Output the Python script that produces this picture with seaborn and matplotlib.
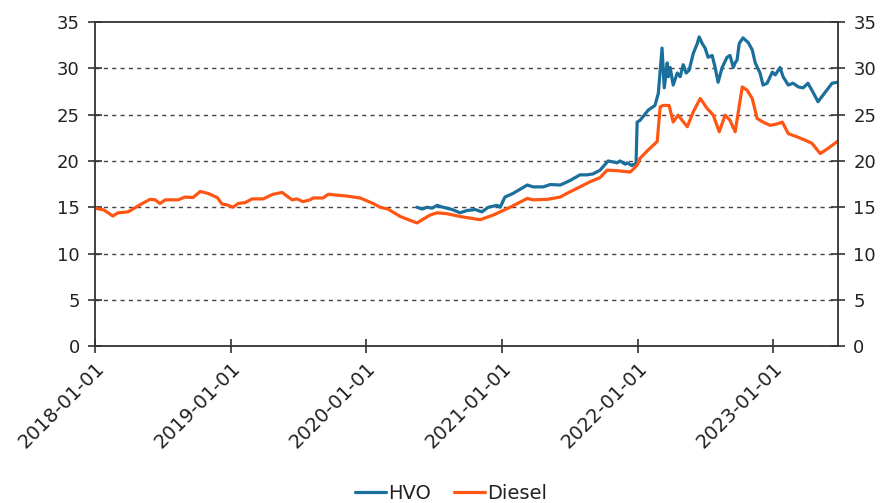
import pandas as pd
import numpy as np
import matplotlib
matplotlib.use("Agg")
import matplotlib.pyplot as plt
import seaborn as sns

# ========== DATA ==========
diesel_dates = [
    "2018-01-01", "2018-01-25", "2018-02-18", "2018-03-04", "2018-03-31", "2018-05-08",
    "2018-05-29", "2018-06-12", "2018-06-25", "2018-07-09", "2018-08-13", "2018-08-31",
    "2018-09-22", "2018-10-11", "2018-11-01", "2018-11-26", "2018-12-09", "2018-12-23",
    "2019-01-08", "2019-01-21", "2019-02-09", "2019-02-28", "2019-03-30", "2019-04-25",
    "2019-05-20", "2019-06-02", "2019-06-16", "2019-06-29", "2019-07-15", "2019-08-03",
    "2019-08-11", "2019-09-07", "2019-09-21", "2019-11-11", "2019-12-16", "2020-01-20",
    "2020-02-08", "2020-02-29", "2020-04-02", "2020-05-17", "2020-06-21", "2020-07-10",
    "2020-08-06", "2020-09-10", "2020-11-03", "2020-12-08", "2021-01-23", "2021-03-10",
    "2021-03-26", "2021-05-03", "2021-06-07", "2021-06-25", "2021-07-30", "2021-08-26",
    "2021-09-22", "2021-10-11", "2021-11-07", "2021-12-12", "2021-12-20", "2021-12-31",
    "2022-01-08", "2022-01-30", "2022-02-23", "2022-03-03", "2022-03-11", "2022-03-27",
    "2022-04-07", "2022-04-20", "2022-05-15", "2022-05-31", "2022-06-19", "2022-07-07",
    "2022-07-24", "2022-08-09", "2022-08-25", "2022-09-07", "2022-09-21", "2022-10-10",
    "2022-10-23", "2022-11-06", "2022-11-19", "2022-12-05", "2022-12-24", "2023-01-12",
    "2023-01-26", "2023-02-11", "2023-03-07", "2023-03-28", "2023-04-16", "2023-05-08",
    "2023-05-29", "2023-06-23",
]
diesel_values = [
    14.9, 14.7, 14.05, 14.4, 14.5, 15.4,
    15.85, 15.8, 15.4, 15.8, 15.8, 16.1,
    16.05, 16.7, 16.5, 16.05, 15.35, 15.25,
    15.0, 15.4, 15.5, 15.9, 15.9, 16.4,
    16.6, 16.2, 15.8, 15.9, 15.6, 15.8,
    16.0, 16.0, 16.4, 16.2, 16.0, 15.4,
    15.0, 14.8, 14.0, 13.3, 14.15, 14.4,
    14.3, 14.0, 13.65, 14.15, 15.0, 15.95,
    15.8, 15.85, 16.1, 16.5, 17.2, 17.75,
    18.2, 19.0, 18.95, 18.8, 19.1, 19.55,
    20.3, 21.2, 22.1, 25.85, 26.0, 26.0,
    24.2, 24.95, 23.7, 25.3, 26.75, 25.7,
    24.95, 23.15, 24.95, 24.4, 23.15, 28.0,
    27.65, 26.75, 24.6, 24.2, 23.85, 24.0,
    24.2, 22.95, 22.6, 22.25, 21.9, 20.8,
    21.35, 22.1,
]

hvo_dates = [
    "2020-05-17", "2020-05-31", "2020-06-13", "2020-06-27", "2020-07-10", "2020-07-26",
    "2020-08-20", "2020-09-10", "2020-09-29", "2020-10-21", "2020-11-08", "2020-11-25",
    "2020-12-19", "2020-12-27", "2021-01-09", "2021-01-31", "2021-03-10", "2021-03-26",
    "2021-04-22", "2021-05-11", "2021-06-07", "2021-07-04", "2021-07-30", "2021-08-18",
    "2021-09-03", "2021-09-22", "2021-10-14", "2021-11-07", "2021-11-15", "2021-11-29",
    "2021-12-04", "2021-12-17", "2021-12-20", "2021-12-28", "2021-12-31", "2022-01-08",
    "2022-01-30", "2022-02-17", "2022-02-26", "2022-03-08", "2022-03-14", "2022-03-22",
    "2022-03-25", "2022-03-30", "2022-04-07", "2022-04-18", "2022-04-26", "2022-05-04",
    "2022-05-12", "2022-05-20", "2022-05-31", "2022-06-11", "2022-06-16", "2022-06-24",
    "2022-07-02", "2022-07-10", "2022-07-21", "2022-07-29", "2022-08-06", "2022-08-17",
    "2022-08-30", "2022-09-07", "2022-09-16", "2022-09-21", "2022-09-26", "2022-10-02",
    "2022-10-12", "2022-10-26", "2022-11-06", "2022-11-14", "2022-11-27", "2022-12-05",
    "2022-12-16", "2022-12-30", "2023-01-07", "2023-01-20", "2023-01-28", "2023-02-11",
    "2023-02-24", "2023-03-10", "2023-03-23", "2023-04-05", "2023-04-19", "2023-05-02",
    "2023-05-21", "2023-06-09", "2023-06-23",
]
hvo_values = [
    15.0, 14.8, 15.0, 14.9, 15.2, 15.0,
    14.75, 14.4, 14.65, 14.75, 14.5, 15.0,
    15.2, 15.0, 16.1, 16.5, 17.4, 17.2,
    17.2, 17.45, 17.4, 17.9, 18.5, 18.5,
    18.6, 19.0, 20.0, 19.8, 20.0, 19.65,
    19.8, 19.5, 19.6, 19.7, 24.2, 24.4,
    25.5, 26.0, 27.3, 32.2, 27.9, 30.6,
    29.1, 30.1, 28.2, 29.5, 29.1, 30.4,
    29.5, 29.8, 31.6, 32.7, 33.4, 32.7,
    32.2, 31.2, 31.4, 30.1, 28.5, 30.1,
    31.2, 31.4, 30.1, 30.6, 30.9, 32.7,
    33.3, 32.8, 32.0, 30.6, 29.5, 28.2,
    28.4, 29.6, 29.3, 30.1, 29.1, 28.2,
    28.4, 28.0, 27.9, 28.4, 27.4, 26.4,
    27.4, 28.4, 28.5,
]

series_names = ["HVO", "Diesel"]
series_colors = {"HVO": "#1b6f9c", "Diesel": "#ff5614"}
y_ticks = [0, 5, 10, 15, 20, 25, 30, 35]
x_ticks = ["2018-01-01", "2019-01-01", "2020-01-01", "2021-01-01", "2022-01-01", "2023-01-01"]
x_end = "2023-06-25"

df = pd.concat([
    pd.DataFrame({"date": pd.to_datetime(hvo_dates), "value": hvo_values, "serie": "HVO"}),
    pd.DataFrame({"date": pd.to_datetime(diesel_dates), "value": diesel_values, "serie": "Diesel"}),
], ignore_index=True)

# ========== PLOT ==========
sns.set_style("white")
plt.rcParams["font.family"] = ["DejaVu Sans"]
text_color = "#222222"

fig = plt.figure(figsize=(8.84, 5.03), dpi=100)
ax = fig.add_axes([0.1075, 0.312, 0.8405, 0.644])

sns.lineplot(data=df, x="date", y="value", hue="serie", hue_order=series_names,
             palette=series_colors, linewidth=2.3, ax=ax, estimator=None, sort=True)

ax.set_xlim(pd.Timestamp(x_ticks[0]), pd.Timestamp(x_end))
ax.set_ylim(y_ticks[0], y_ticks[-1])
ax.set_yticks(y_ticks)
ax.set_xticks(pd.to_datetime(x_ticks))
ax.set_xticklabels(x_ticks, rotation=45, ha="right", rotation_mode="anchor")
ax.set_xlabel("")
ax.set_ylabel("")

for y in y_ticks[1:-1]:
    ax.axhline(y, color="#444444", linestyle=(0, (3, 3)), linewidth=1.0, zorder=0)

for s in ax.spines.values():
    s.set_visible(True)
    s.set_color("#333333")
    s.set_linewidth(1.3)

ax.tick_params(axis="y", which="both", direction="inout", length=10, width=1.2,
               left=True, right=True, labelleft=True, labelright=True,
               labelsize=13, colors="#333333", labelcolor=text_color, pad=6)
ax.tick_params(axis="x", direction="inout", length=10, width=1.2, bottom=True,
               labelsize=14, colors="#333333", labelcolor=text_color, pad=4)

handles, labels = ax.get_legend_handles_labels()
ax.legend(handles, labels, loc="center", bbox_to_anchor=(0.479, -0.454),
          ncol=2, frameon=False, fontsize=14, handlelength=1.6, handletextpad=0.1,
          columnspacing=1.2, labelcolor=text_color)

fig.savefig("out.png", dpi=100)
